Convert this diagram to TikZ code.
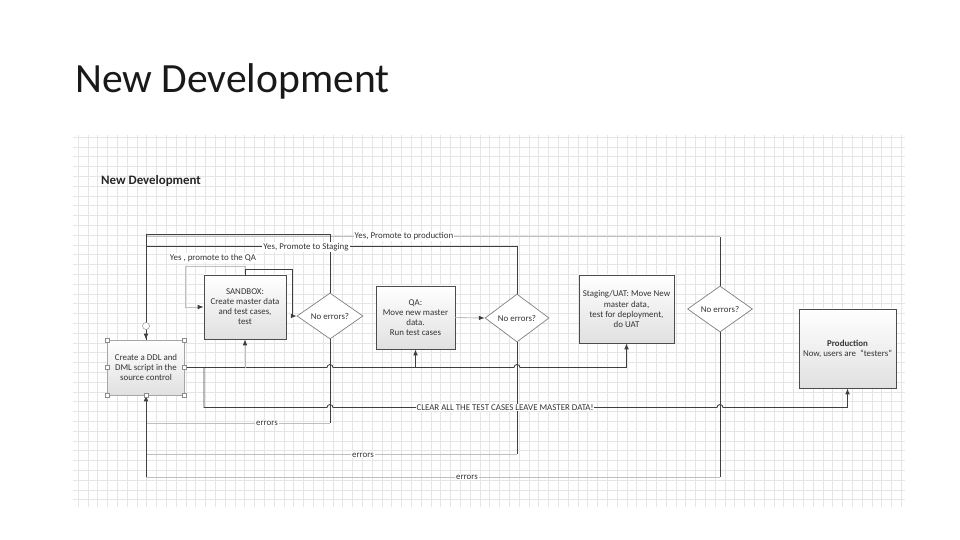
\documentclass[tikz,border=0pt]{standalone}
\usepackage{fontspec}
\setmainfont{Carlito}
\usetikzlibrary{arrows.meta,shapes.geometric}

\begin{document}
\begin{tikzpicture}[x=0.03cm,y=-0.03cm,
  font=\fontsize{7.6}{8.6}\selectfont, text=black!80,
  gridline/.style={draw=black!10,line width=0.35pt},
  stepbox/.style={draw=black!70,line width=0.7pt,top color=white,bottom color=black!12,align=center,inner sep=0pt},
  decision/.style={diamond,draw=black!50,line width=0.6pt,fill=white,inner sep=0pt},
  wire/.style={draw=black!75,line width=0.75pt},
  faint/.style={draw=black!25,line width=0.75pt},
  tip/.style={-{Latex[length=5pt,width=4pt]}},
  darktip/.style={-{Latex[length=5pt,width=4pt,color=black!75]}},
  lbl/.style={fill=white,inner sep=0.8pt},
  handle/.style={draw=black!45,fill=white,line width=0.4pt,inner sep=0pt,minimum size=3.2pt}]
  \fill[white] (0,0) rectangle (960,540);
  \useasboundingbox (0,0) rectangle (960,540);
  \node[font=\fontsize{35.5}{40}\selectfont,anchor=base west,inner sep=0pt,text=black!90] (title) at (75,93) {New Development};

  % the grid of the drawing page
  \foreach \gx in {78,87.8,...,905} \draw[gridline] (\gx,135) -- (\gx,507);
  \foreach \gy in {137,146.8,...,507} \draw[gridline] (73,\gy) -- (905,\gy);
  \node[font=\fontsize{11}{13}\selectfont\bfseries,anchor=base west,inner sep=0pt,text=black!85] (sub) at (101,185) {New Development};

  % steps and decisions
  \node[stepbox,draw=black!35,minimum width=2.31cm,minimum height=1.65cm] (ddl) at (146,367.5) {Create a DDL and\\DML script in the\\source control};
  \node[stepbox,minimum width=2.46cm,minimum height=1.92cm] (sbx) at (245,307) {SANDBOX:\\Create master data\\and test cases,\\test};
  \node[stepbox,minimum width=2.37cm,minimum height=1.89cm] (qa) at (415.5,317.5) {QA:\\Move new master\\data.\\Run test cases};
  \node[stepbox,minimum width=2.85cm,minimum height=2.04cm] (stg) at (626.5,309) {Staging/UAT: Move New\\master data,\\test for deployment,\\do UAT};
  \node[stepbox,minimum width=2.91cm,minimum height=2.37cm] (prod) at (847.5,348.5) {\textbf{Production}\\Now, users are \ “testers”};
  \node[decision,minimum width=1.98cm,minimum height=1.38cm] (d1) at (330,316) {No errors?};
  \node[decision,minimum width=1.92cm,minimum height=1.44cm] (d2) at (517,318) {No errors?};
  \node[decision,minimum width=1.95cm,minimum height=1.38cm] (d3) at (720,309) {No errors?};

  % yes: promote
  \draw[wire] (d3.north) -- ++(0,-49) coordinate (yp);
  \draw[faint] (yp) -- (yp -| ddl.north);
  \draw[wire,tip] (yp -| ddl.north) -- (ddl.north);
  \draw[wire] (d2.north) -- ++(0,-47) -| (ddl.north);
  \draw[wire] (d1.north) -- ++(0,-58) -| (ddl.north);
  \node[lbl] (lprod) at (404,236.5) {Yes, Promote to production};
  \node[lbl] (lstg) at (306,247) {Yes, Promote to Staging};
  \node[lbl] (lqa) at (213,258) {Yes , promote to the QA};

  % within the stages
  \draw[faint,darktip] (sbx.north) -- ++(0,-8) -- ++(-60,0) |- (sbx.west);
  \draw[wire,tip] (sbx.north) -- ++(0,-5) -- ++(47,0) |- (d1.west);
  \draw[faint,darktip] (qa.east) -- (d2.west);

  % from the scripts
  \draw[wire,tip] (ddl.east) -- ([xshift=-0.09cm]d1.south |- ddl.east)
    arc[start angle=180,end angle=0,radius=0.09cm] -- ([xshift=-0.09cm]d2.south |- ddl.east)
    arc[start angle=180,end angle=0,radius=0.09cm] -| (stg.south);
  \draw[faint,darktip] (sbx.south |- ddl.east) -- (sbx.south);
  \draw[wire,tip] (qa.south |- ddl.east) -- (qa.south);
  \coordinate (split) at (204,367.5);
  \coordinate (clr) at (204,407.5);
  \draw[wire,tip] (split) -- (clr) -- ([xshift=-0.09cm]clr -| d1.south)
    arc[start angle=180,end angle=0,radius=0.09cm] -- ([xshift=-0.09cm]clr -| d3.south)
    arc[start angle=180,end angle=0,radius=0.09cm] -| (prod.south);

  % errors
  \draw[wire] (d1.south) -- ++(0,84) coordinate (e1);
  \draw[faint] (e1) -- (e1 -| ddl.south);
  \draw[wire] (d2.south) -- ++(0,112) coordinate (e2);
  \draw[faint] (e2) -- (e2 -| ddl.south);
  \draw[wire] (d3.south) -- ++(0,145) coordinate (e3);
  \draw[faint] (e3) -- (e3 -| ddl.south);
  \draw[wire,tip] (e3 -| ddl.south) -- (ddl.south);
  \node[lbl] (lclr) at (505,407.5) {CLEAR ALL THE TEST CASES LEAVE MASTER DATA!};
  \node[lbl] (le1) at (267,423) {errors};
  \node[lbl] (le2) at (363,455) {errors};
  \node[lbl] (le3) at (467,477) {errors};

  % selection handles
  \foreach \hx/\hy [count=\hi] in {107.5/340,184.5/340,107.5/395,184.5/395,107.5/367.5,184.5/367.5,146/395}
    \node[handle] (hd\hi) at (\hx,\hy) {};
  \node[handle,circle,minimum size=6pt] (rot) at (146,326) {};
\end{tikzpicture}
\end{document}
